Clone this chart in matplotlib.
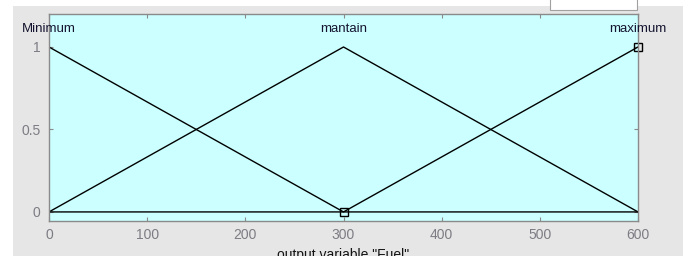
import matplotlib
matplotlib.use("Agg")
import matplotlib.pyplot as plt
from matplotlib.patches import Rectangle

# Membership functions (x breakpoints, y values)
mf_names = ["Minimum", "mantain", "maximum"]
mf_label_x = [0, 300, 600]
min_x = [0, 300, 600]
min_y = [1, 0, 0]
mant_x = [0, 300, 600]
mant_y = [0, 1, 0]
max_x = [0, 300, 600]
max_y = [0, 0, 1]
marker_x = [300, 600]
marker_y = [0, 1]
xticks = [0, 100, 200, 300, 400, 500, 600]
yticks = [0, 0.5, 1]
ytick_labels = ["0", "0.5", "1"]
xlabel = 'output variable "Fuel"'

plt.rcParams['font.family'] = ['Liberation Sans', 'DejaVu Sans']

W, H = 683, 256
fig = plt.figure(figsize=(W / 100, H / 100), dpi=100)
fig.patch.set_facecolor('white')

# background layer
bg = fig.add_axes([0, 0, 1, 1], zorder=-10)
bg.set_xlim(0, W)
bg.set_ylim(H, 0)
bg.axis('off')
bg.add_patch(Rectangle((13, 6), W - 13, H - 6, facecolor='#e6e6e6', edgecolor='none'))
bg.add_patch(Rectangle((550, -2), 87, 12, facecolor='white', edgecolor='#a0a0a0', linewidth=0.8))

ax = fig.add_axes([49 / W, 35 / H, 589 / W, 207 / H], zorder=5)
ax.set_facecolor('#ccffff')
ax.set_xlim(0, 600)
ax.set_ylim(-0.055, 1.2)

ax.plot(min_x, min_y, color='black', lw=1)
ax.plot(mant_x, mant_y, color='black', lw=1)
ax.plot(max_x, max_y, color='black', lw=1)
ax.plot(marker_x, marker_y, linestyle='none', marker='s', markersize=6,
        markerfacecolor='none', markeredgecolor='black', markeredgewidth=1,
        clip_on=False)

for name, xp in zip(mf_names, mf_label_x):
    ax.text(xp, 1.11, name, ha='center', va='center', fontsize=9.5,
            color='#141430', clip_on=False)

ax.set_xticks(xticks)
ax.set_yticks(yticks)
ax.set_yticklabels(ytick_labels)
ax.tick_params(direction='in', length=3, top=True, right=True,
               colors='#8a8a8a', labelcolor='#7c7c84', labelsize=10, width=0.8)
ax.tick_params(axis='x', pad=5)
ax.tick_params(axis='y', pad=6)
for s in ax.spines.values():
    s.set_color('#8a8a8a')
    s.set_linewidth(1)

ax.set_xlabel(xlabel, fontsize=10, color='#141414', labelpad=4)

fig.savefig('out.png', dpi=100, facecolor=fig.get_facecolor())
